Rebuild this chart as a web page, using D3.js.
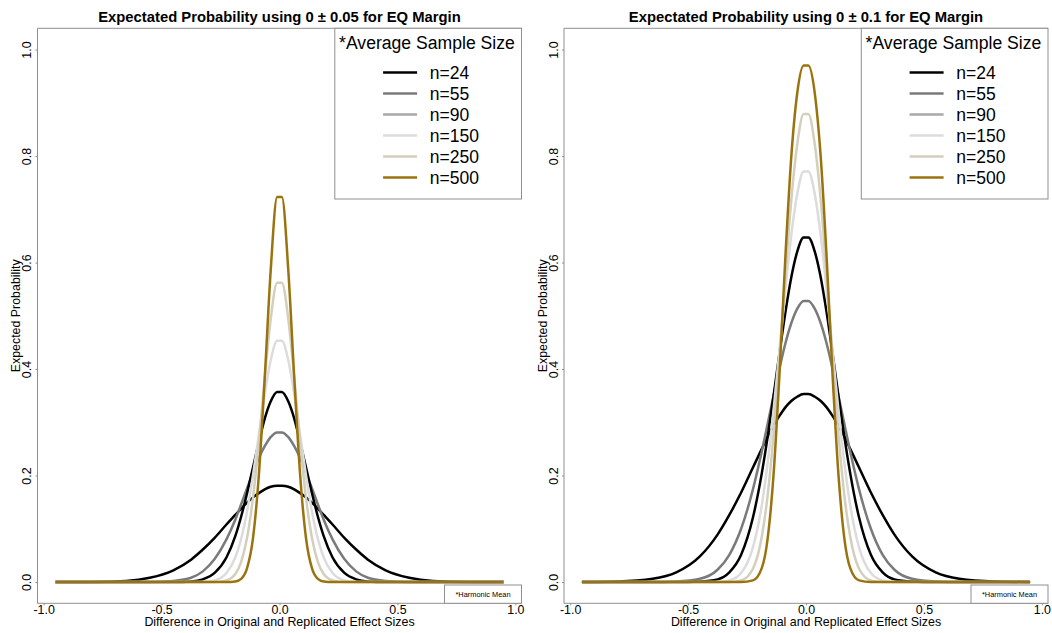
<!DOCTYPE html>
<html>
<head>
<meta charset="utf-8">
<script src="https://cdnjs.cloudflare.com/ajax/libs/d3/7.8.5/d3.min.js"></script>
<style>
  body { margin: 0; background: #fff; }
  text { font-family: "Liberation Sans", Arial, sans-serif; }
</style>
</head>
<body>
<div id="chart"></div>
<script>
// -------------------------------------------------------------------------
// Data

// difference between original and replicated effect sizes
const diffValues = [-0.95, -0.8, -0.65, -0.55, -0.45, -0.375, -0.325, -0.275, -0.225, -0.1875,
  -0.1625, -0.1375, -0.1125, -0.0875, -0.0625, -0.0375, -0.01, 0.01, 0.0375, 0.0625, 0.0875,
  0.1125, 0.1375, 0.1625, 0.1875, 0.225, 0.275, 0.325, 0.375, 0.45, 0.55, 0.65, 0.8, 0.95];

const sampleSizes = ['n=24', 'n=55', 'n=90', 'n=150', 'n=250', 'n=500'];

// EQ margin 0 +/- 0.05
const prob05n24 = [0, 0, 0.002, 0.008, 0.022, 0.042, 0.061, 0.083, 0.108, 0.126, 0.138, 0.149, 0.159, 0.167, 0.174, 0.179, 0.181,
  0.181, 0.179, 0.174, 0.167, 0.159, 0.149, 0.138, 0.126, 0.108, 0.083, 0.061, 0.042, 0.022, 0.008, 0.002, 0, 0];
const prob05n55 = [0, 0, 0, 0, 0.002, 0.008, 0.020, 0.043, 0.080, 0.117, 0.146, 0.176, 0.205, 0.233, 0.255, 0.272, 0.281,
  0.281, 0.272, 0.255, 0.233, 0.205, 0.176, 0.146, 0.117, 0.080, 0.043, 0.020, 0.008, 0.002, 0, 0, 0, 0];
const prob05n90 = [0, 0, 0, 0, 0, 0.001, 0.005, 0.017, 0.046, 0.086, 0.123, 0.167, 0.215, 0.263, 0.307, 0.339, 0.357,
  0.357, 0.339, 0.307, 0.263, 0.215, 0.167, 0.123, 0.086, 0.046, 0.017, 0.005, 0.001, 0, 0, 0, 0, 0];
const prob05n150 = [0, 0, 0, 0, 0, 0, 0, 0.003, 0.017, 0.046, 0.081, 0.133, 0.200, 0.277, 0.353, 0.416, 0.453,
  0.453, 0.416, 0.353, 0.277, 0.200, 0.133, 0.081, 0.046, 0.017, 0.003, 0, 0, 0, 0, 0, 0, 0];
const prob05n250 = [0, 0, 0, 0, 0, 0, 0, 0, 0.003, 0.015, 0.038, 0.083, 0.158, 0.262, 0.384, 0.493, 0.562,
  0.562, 0.493, 0.384, 0.262, 0.158, 0.083, 0.038, 0.015, 0.003, 0, 0, 0, 0, 0, 0, 0, 0];
const prob05n500 = [0, 0, 0, 0, 0, 0, 0, 0, 0, 0.001, 0.006, 0.026, 0.082, 0.201, 0.384, 0.584, 0.723,
  0.723, 0.584, 0.384, 0.201, 0.082, 0.026, 0.006, 0.001, 0, 0, 0, 0, 0, 0, 0, 0, 0];

// EQ margin 0 +/- 0.1
const prob10n24 = [0, 0.001, 0.006, 0.018, 0.048, 0.089, 0.126, 0.168, 0.215, 0.250, 0.273, 0.294, 0.312, 0.328, 0.340, 0.348, 0.353,
  0.353, 0.348, 0.340, 0.328, 0.312, 0.294, 0.273, 0.250, 0.215, 0.168, 0.126, 0.089, 0.048, 0.018, 0.006, 0.001, 0];
const prob10n55 = [0, 0, 0, 0.001, 0.006, 0.023, 0.051, 0.100, 0.174, 0.245, 0.297, 0.350, 0.401, 0.448, 0.486, 0.513, 0.528,
  0.528, 0.513, 0.486, 0.448, 0.401, 0.350, 0.297, 0.245, 0.174, 0.100, 0.051, 0.023, 0.006, 0.001, 0, 0, 0];
const prob10n90 = [0, 0, 0, 0, 0.001, 0.005, 0.018, 0.051, 0.121, 0.204, 0.273, 0.350, 0.430, 0.506, 0.572, 0.620, 0.647,
  0.647, 0.620, 0.572, 0.506, 0.430, 0.350, 0.273, 0.204, 0.121, 0.051, 0.018, 0.005, 0.001, 0, 0, 0, 0];
const prob10n150 = [0, 0, 0, 0, 0, 0, 0.003, 0.017, 0.065, 0.144, 0.224, 0.323, 0.435, 0.549, 0.651, 0.728, 0.771,
  0.771, 0.728, 0.651, 0.549, 0.435, 0.323, 0.224, 0.144, 0.065, 0.017, 0.003, 0, 0, 0, 0, 0, 0];
const prob10n250 = [0, 0, 0, 0, 0, 0, 0, 0.003, 0.025, 0.085, 0.163, 0.278, 0.422, 0.576, 0.717, 0.821, 0.879,
  0.879, 0.821, 0.717, 0.576, 0.422, 0.278, 0.163, 0.085, 0.025, 0.003, 0, 0, 0, 0, 0, 0, 0];
const prob10n500 = [0, 0, 0, 0, 0, 0, 0, 0, 0.003, 0.026, 0.082, 0.202, 0.390, 0.610, 0.798, 0.917, 0.970,
  0.970, 0.917, 0.798, 0.610, 0.390, 0.202, 0.082, 0.026, 0.003, 0, 0, 0, 0, 0, 0, 0, 0];

const xTickValues = [-1, -0.5, 0, 0.5, 1];
const yTickValues = [0, 0.2, 0.4, 0.6, 0.8, 1];

// -------------------------------------------------------------------------
// Styles

// the n=90 curve is drawn black in the plot while its legend key is grey
const lineColors = ['#000000', '#7a7a7a', '#000000', '#dcdcdc', '#d3cfbc', '#9a730f'];
const legendColors = ['#000000', '#7a7a7a', '#a8a8a8', '#dcdcdc', '#d3cfbc', '#9a730f'];
const frameColor = '#8f8f8f';

const width = 1052;
const height = 633;
const plotWidth = 484;
const plotTop = 28.3;
const plotBottom = 603.3;

const svg = d3.select('#chart')
  .append('svg')
  .attr('width', width)
  .attr('height', height);

// -------------------------------------------------------------------------
// Methods

/**
 * @function drawPanel
 * Method to draw one expected probability panel
 */
function drawPanel(left, title, seriesList) {
  const x = d3.scaleLinear().domain([-1.026, 1.026]).range([left, left + plotWidth]);
  const y = d3.scaleLinear().domain([-0.04, 1.04]).range([plotBottom, plotTop]);
  const right = left + plotWidth;
  const g = svg.append('g');

  // frame: left, top and bottom sides
  g.append('path')
    .attr('d', `M${right},${plotTop}H${left}V${plotBottom}H${right}`)
    .attr('fill', 'none')
    .attr('stroke', frameColor)
    .attr('stroke-width', 1);

  // axes
  const xAxis = g.append('g')
    .attr('transform', `translate(0,${plotBottom})`)
    .call(d3.axisBottom(x).tickValues(xTickValues).tickSize(2).tickFormat(d => d.toFixed(1)));
  xAxis.select('.domain').remove();
  xAxis.selectAll('line').attr('stroke', frameColor);
  xAxis.selectAll('text')
    .attr('y', 10.5)
    .attr('dy', 0)
    .style('font-size', '12.4px')
    .attr('fill', '#000');

  const yAxis = g.append('g')
    .attr('transform', `translate(${left},0)`)
    .call(d3.axisLeft(y).tickValues(yTickValues).tickSize(2).tickFormat(d => d.toFixed(1)));
  yAxis.select('.domain').remove();
  yAxis.selectAll('line').attr('stroke', frameColor);
  yAxis.selectAll('text')
    .attr('x', 0)
    .attr('dy', 0)
    .attr('text-anchor', 'middle')
    .attr('transform', 'translate(-6.5,0) rotate(-90)')
    .style('font-size', '12.4px')
    .attr('fill', '#000');

  // titles
  g.append('text')
    .attr('x', (left + right) / 2)
    .attr('y', 22)
    .attr('text-anchor', 'middle')
    .style('font-size', '14.8px')
    .style('font-weight', 'bold')
    .text(title);

  g.append('text')
    .attr('x', (left + right) / 2)
    .attr('y', 626)
    .attr('text-anchor', 'middle')
    .style('font-size', '12.4px')
    .text('Difference in Original and Replicated Effect Sizes');

  g.append('text')
    .attr('transform', `translate(${left - 17.5},${(plotTop + plotBottom) / 2}) rotate(-90)`)
    .attr('text-anchor', 'middle')
    .style('font-size', '12.4px')
    .text('Expected Probability');

  // curves
  const line = d3.line()
    .x((d, i) => x(diffValues[i]))
    .y(d => y(d))
    .curve(d3.curveMonotoneX);

  g.selectAll('.curve')
    .data(seriesList)
    .enter()
    .append('path')
    .attr('class', 'curve')
    .attr('d', d => line(d))
    .attr('fill', 'none')
    .attr('stroke', (d, i) => lineColors[i])
    .attr('stroke-width', 2.5)
    .attr('stroke-linejoin', 'round');

  // legend
  const legendLeft = right - 186.7;
  const legend = g.append('g');
  legend.append('rect')
    .attr('x', legendLeft)
    .attr('y', plotTop)
    .attr('width', 186.7)
    .attr('height', 199 - plotTop)
    .attr('fill', '#fff')
    .attr('stroke', frameColor);
  legend.append('text')
    .attr('x', legendLeft + 4.3)
    .attr('y', 49)
    .style('font-size', '17.6px')
    .text('*Average Sample Size');
  const items = legend.selectAll('.item')
    .data(sampleSizes)
    .enter()
    .append('g')
    .attr('class', 'item')
    .attr('transform', (d, i) => `translate(${legendLeft},${72.6 + i * 21})`);
  items.append('line')
    .attr('x1', 48.3)
    .attr('x2', 82.3)
    .attr('stroke', (d, i) => legendColors[i])
    .attr('stroke-width', 2.5);
  items.append('text')
    .attr('x', 95)
    .attr('y', 6.3)
    .style('font-size', '17.5px')
    .text(d => d);

  // harmonic mean note
  g.append('rect')
    .attr('x', right - 77)
    .attr('y', 585)
    .attr('width', 77)
    .attr('height', plotBottom - 585)
    .attr('fill', '#fff')
    .attr('stroke', frameColor);
  g.append('text')
    .attr('x', right - 38.5)
    .attr('y', 597)
    .attr('text-anchor', 'middle')
    .style('font-size', '7.4px')
    .text('*Harmonic Mean');
}

drawPanel(37.5, 'Expectated Probability using 0 \u00b1 0.05 for EQ Margin',
  [prob05n24, prob05n55, prob05n90, prob05n150, prob05n250, prob05n500]);
drawPanel(564, 'Expectated Probability using 0 \u00b1 0.1 for EQ Margin',
  [prob10n24, prob10n55, prob10n90, prob10n150, prob10n250, prob10n500]);
</script>
</body>
</html>
